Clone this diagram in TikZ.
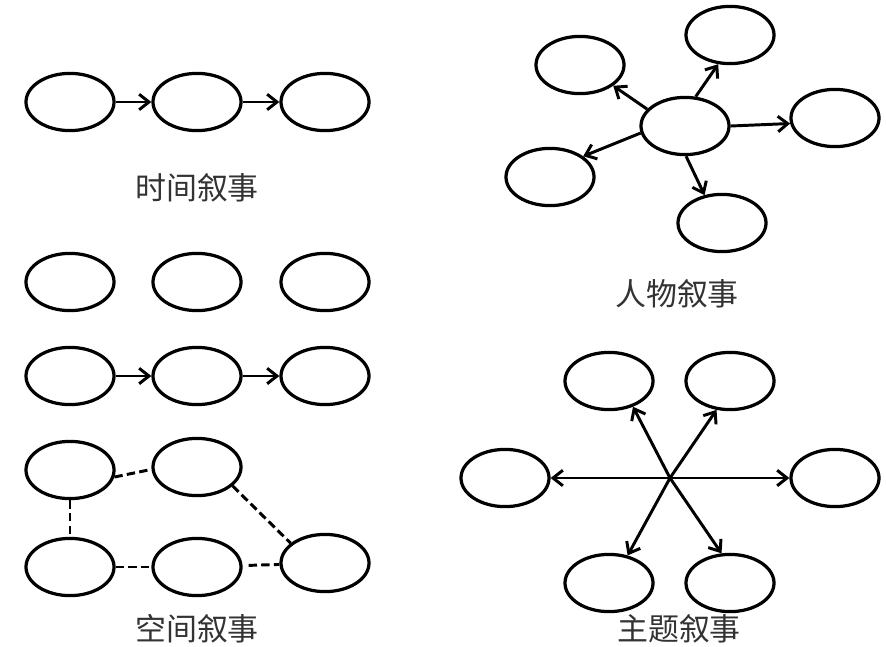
\documentclass[tikz,border=0pt]{standalone}
\usepackage{fontspec}
\newfontfamily\cjk{Noto Sans CJK SC}
\usetikzlibrary{shapes.geometric, arrows.meta}

\begin{document}
\begin{tikzpicture}[x=0.025cm, y=-0.025cm,
    ell/.style={ellipse, draw, line width=2.3pt, minimum width=2.2cm, minimum height=1.43cm, inner sep=0pt},
    link/.style={line width=2.1pt, -{Straight Barb[length=7pt, width=11pt]}},
    dlink/.style={line width=2.1pt, dash pattern=on 6pt off 3pt},
    lbl/.style={font=\cjk\fontsize{22pt}{24pt}\selectfont, text=black!80}]
    \useasboundingbox (0,0) rectangle (886,646);

    % Time narrative
    \node[ell] (a1) at (70,102) {};
    \node[ell] (a2) at (197,102) {};
    \node[ell] (a3) at (325,102) {};
    \draw[link] (a1) -- (a2);
    \draw[link] (a2) -- (a3);
    \node[lbl] (ta) at (197,188) {时间叙事};

    % Space narrative
    \node[ell] (b1) at (70,282) {};
    \node[ell] (b2) at (197,282) {};
    \node[ell] (b3) at (325,282) {};

    \node[ell] (c1) at (70,376) {};
    \node[ell] (c2) at (197,376) {};
    \node[ell] (c3) at (325,376) {};
    \draw[link] (c1) -- (c2);
    \draw[link] (c2) -- (c3);

    \node[ell] (d1) at (70,470) {};
    \node[ell] (d2) at (197,467) {};
    \node[ell] (d3) at (70,567) {};
    \node[ell] (d4) at (197,567) {};
    \node[ell] (d5) at (325,563) {};
    \draw[dlink] (d1.-9) -- (d2.183);
    \draw[dlink] (d1) -- (d3);
    \draw[dlink] (d2.-28) -- (d5.150);
    \draw[dlink] (d3) -- (d4);
    \draw[dlink, shorten <=1.5mm] (d4) -- (d5);
    \node[lbl] (tb) at (197,629) {空间叙事};

    % Character narrative
    \node[ell] (p0) at (685,126) {};
    \node[ell] (p1) at (580,65) {};
    \node[ell] (p2) at (730,35) {};
    \node[ell] (p3) at (835,118) {};
    \node[ell] (p4) at (550,177) {};
    \node[ell] (p5) at (722,223) {};
    \draw[link] (p0.156) -- (p1.-32);
    \draw[link] (p0.70) -- (p2.-112);
    \draw[link] (p0.0) -- (p3.187);
    \draw[link] (p0.189) -- (p4.32);
    \draw[link] (p0.-88) -- (p5.122);
    \node[lbl] (tp) at (677,294) {人物叙事};

    % Theme narrative
    \coordinate (hub) at (670,478);
    \node[ell] (q1) at (609,381) {};
    \node[ell] (q2) at (730,381) {};
    \node[ell] (q3) at (505,478) {};
    \node[ell] (q4) at (835,478) {};
    \node[ell] (q5) at (609,583) {};
    \node[ell] (q6) at (730,583) {};
    \draw[link] (hub) -- (q1.-47);
    \draw[link] (hub) -- (q2.-115);
    \draw[link] (hub) -- (q3.east);
    \draw[link] (hub) -- (q4.west);
    \draw[link] (hub) -- (q5.56);
    \draw[link] (hub) -- (q6.106);
    \node[lbl] (tq) at (679,629) {主题叙事};
\end{tikzpicture}
\end{document}
